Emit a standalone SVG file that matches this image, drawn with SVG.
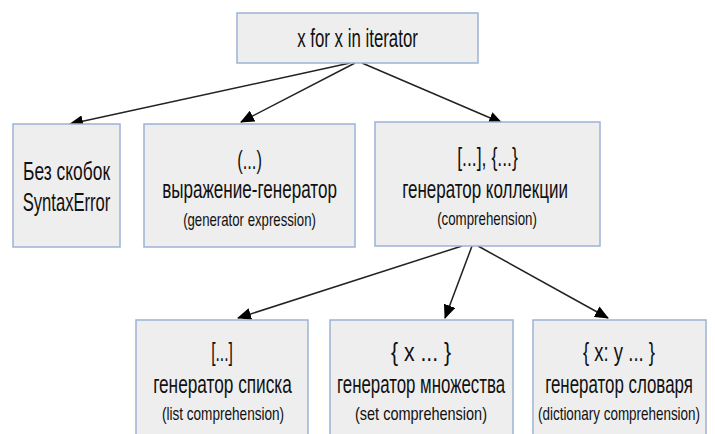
<svg xmlns="http://www.w3.org/2000/svg" width="715" height="434" viewBox="0 0 715 434">
  <defs>
    <marker id="arrow" markerUnits="userSpaceOnUse" markerWidth="14" markerHeight="12" refX="13" refY="6" orient="auto">
      <path d="M0,0 L14,6 L0,12 Z" fill="#000"/>
    </marker>
    <style>
      .box { fill: #eeeeee; stroke: #9db3d6; stroke-width: 1.5; }
      .t { font-family: "Liberation Sans", Arial, sans-serif; fill: #111; text-anchor: middle; }
      .big { font-size: 25px; }
      .small { font-size: 19px; }
      .edge { stroke: #222; stroke-width: 1.5; fill: none; marker-end: url(#arrow); }
    </style>
  </defs>
  <rect width="715" height="434" fill="#ffffff"/>

  <g id="connectors">
    <line class="edge" x1="350" y1="63" x2="70" y2="124"/>
    <line class="edge" x1="355" y1="63" x2="241" y2="122"/>
    <line class="edge" x1="362" y1="63" x2="502" y2="123"/>
    <line class="edge" x1="462" y1="246" x2="238" y2="318"/>
    <line class="edge" x1="472" y1="246" x2="445" y2="318"/>
    <line class="edge" x1="478" y1="246" x2="608" y2="318"/>
  </g>

  <!-- labels use a condensed look: horizontal scale 0.75, textLength given in unscaled units -->
  <g id="root">
    <rect class="box" x="237" y="13" width="241" height="50"/>
    <text class="t big" transform="translate(357.5,47) scale(0.75,1)" textLength="161" lengthAdjust="spacingAndGlyphs">x for x in iterator</text>
  </g>

  <g id="no-parens">
    <rect class="box" x="13" y="124" width="107" height="123"/>
    <text class="t big" transform="translate(66.5,180) scale(0.75,1)" textLength="116" lengthAdjust="spacingAndGlyphs">Без скобок</text>
    <text class="t big" transform="translate(66.5,211) scale(0.75,1)" textLength="117" lengthAdjust="spacingAndGlyphs">SyntaxError</text>
  </g>

  <g id="generator-expression">
    <rect class="box" x="144" y="124" width="211" height="123"/>
    <text class="t big" transform="translate(249.5,169) scale(0.75,1)" textLength="33" lengthAdjust="spacingAndGlyphs">(...)</text>
    <text class="t big" transform="translate(249.5,198) scale(0.75,1)" textLength="233" lengthAdjust="spacingAndGlyphs">выражение-генератор</text>
    <text class="t small" transform="translate(249.5,226) scale(0.75,1)" textLength="177" lengthAdjust="spacingAndGlyphs">(generator expression)</text>
  </g>

  <g id="comprehension">
    <rect class="box" x="375" y="122" width="225" height="124"/>
    <text class="t big" transform="translate(487.5,166) scale(0.75,1)" textLength="81" lengthAdjust="spacingAndGlyphs">[...], {...}</text>
    <text class="t big" transform="translate(485,198) scale(0.75,1)" textLength="221" lengthAdjust="spacingAndGlyphs">генератор коллекции</text>
    <text class="t small" transform="translate(487,225) scale(0.75,1)" textLength="133" lengthAdjust="spacingAndGlyphs">(comprehension)</text>
  </g>

  <g id="list-comprehension">
    <rect class="box" x="136" y="320" width="172" height="130"/>
    <text class="t big" transform="translate(222,361) scale(0.75,1)" textLength="29" lengthAdjust="spacingAndGlyphs">[...]</text>
    <text class="t big" transform="translate(222.5,393) scale(0.75,1)" textLength="185" lengthAdjust="spacingAndGlyphs">генератор списка</text>
    <text class="t small" transform="translate(223,420) scale(0.75,1)" textLength="163" lengthAdjust="spacingAndGlyphs">(list comprehension)</text>
  </g>

  <g id="set-comprehension">
    <rect class="box" x="330" y="320" width="183" height="130"/>
    <text class="t big" transform="translate(421,361) scale(0.75,1)" textLength="80" lengthAdjust="spacingAndGlyphs">{ x ... }</text>
    <text class="t big" transform="translate(421,393) scale(0.75,1)" textLength="224" lengthAdjust="spacingAndGlyphs">генератор множества</text>
    <text class="t small" transform="translate(421,420) scale(0.75,1)" textLength="176" lengthAdjust="spacingAndGlyphs">(set comprehension)</text>
  </g>

  <g id="dict-comprehension">
    <rect class="box" x="533" y="320" width="173" height="130"/>
    <text class="t big" transform="translate(619,361) scale(0.75,1)" textLength="96" lengthAdjust="spacingAndGlyphs">{ x: y ... }</text>
    <text class="t big" transform="translate(619,393) scale(0.75,1)" textLength="197" lengthAdjust="spacingAndGlyphs">генератор словаря</text>
    <text class="t small" transform="translate(619,420) scale(0.75,1)" textLength="216" lengthAdjust="spacingAndGlyphs">(dictionary comprehension)</text>
  </g>
</svg>
